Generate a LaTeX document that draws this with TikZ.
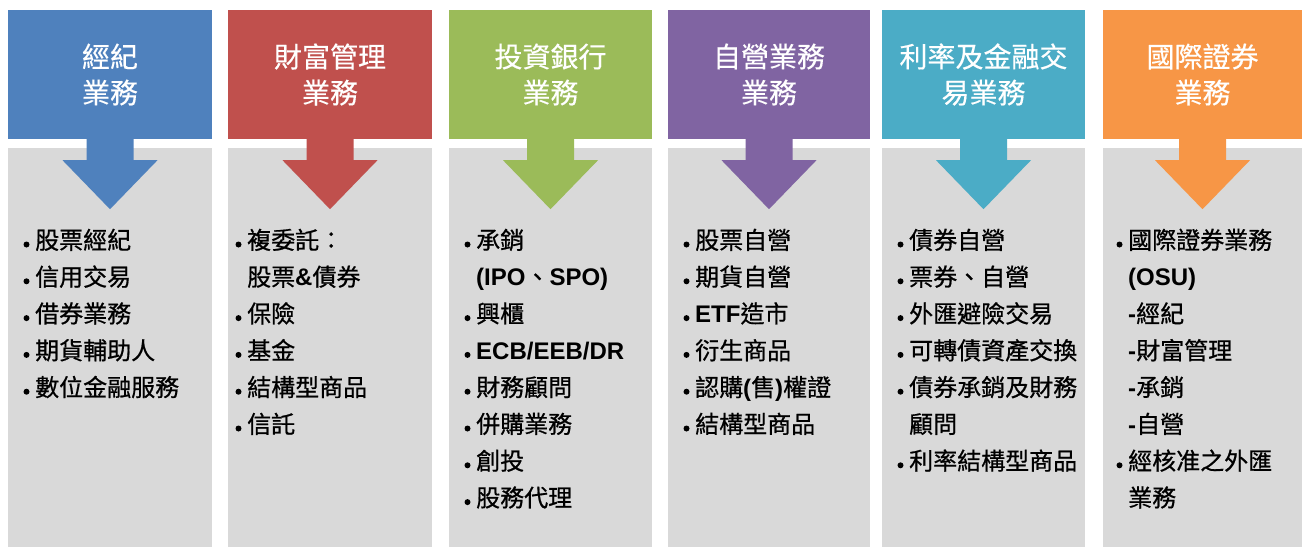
\documentclass[tikz,border=0pt]{standalone}
\usepackage{fontspec}
\usetikzlibrary{calc}
\newfontfamily\cjk{Noto Sans CJK TC}[FakeBold=0.7]
\newfontfamily\cjkh{Noto Sans CJK TC}[FakeBold=0.4]
\newfontfamily\lat{Liberation Sans}
\newcommand\B[1]{{\lat\bfseries #1}}
\definecolor{cBlue}{HTML}{4F81BD}
\definecolor{cRed}{HTML}{C0504D}
\definecolor{cGreen}{HTML}{9BBB59}
\definecolor{cPurple}{HTML}{8064A2}
\definecolor{cAqua}{HTML}{4BACC6}
\definecolor{cOrange}{HTML}{F79646}
\definecolor{cGray}{HTML}{D9D9D9}
\tikzset{
  hdr/.style={rectangle, inner sep=0pt, minimum height=129pt, text=white, align=center,
    font=\cjkh\fontsize{28}{36}\selectfont},
  panel/.style={rectangle, inner sep=0pt, fill=cGray, minimum height=399pt},
  body/.style={anchor=base west, inner sep=0pt, text=black, font=\cjk\fontsize{24}{24}\selectfont},
}
\newcommand\bitem[4]{\node[body] (#1) at (#2,#3) {#4};
  \fill[black] ($(#1.base west)+(-8.5,-4.5)$) circle (3pt);}
\newcommand\pitem[4]{\node[body] (#1) at (#2,#3) {#4};}
\newcommand\colarrow[2]{%
  \fill[#2] ($(#1.south)+(-23.5,-0.5)$) -- ($(#1.south)+(-23.5,21)$) -- ($(#1.south)+(-47.5,21)$)
   -- ($(#1.south)+(0,70)$) -- ($(#1.south)+(47.5,21)$) -- ($(#1.south)+(23.5,21)$)
   -- ($(#1.south)+(23.5,-0.5)$) -- cycle;}
\begin{document}
\begin{tikzpicture}[x=1pt,y=-1pt]
\path[use as bounding box, fill=white] (0,0) rectangle (1306,547);
% panels
\node[panel, minimum width=204pt] (p1) at (110,347.5) {};
\node[panel, minimum width=204pt] (p2) at (330,347.5) {};
\node[panel, minimum width=203pt] (p3) at (550.5,347.5) {};
\node[panel, minimum width=202pt] (p4) at (769,347.5) {};
\node[panel, minimum width=203pt] (p5) at (983.5,347.5) {};
\node[panel, minimum width=199pt] (p6) at (1202.5,347.5) {};
% headers
\node[hdr, fill=cBlue, minimum width=204pt] (h1) at (110,74.5) {經紀\\業務};
\node[hdr, fill=cRed, minimum width=204pt] (h2) at (330,74.5) {財富管理\\業務};
\node[hdr, fill=cGreen, minimum width=203pt] (h3) at (550.5,74.5) {投資銀行\\業務};
\node[hdr, fill=cPurple, minimum width=202pt] (h4) at (769,74.5) {自營業務\\業務};
\node[hdr, fill=cAqua, minimum width=203pt] (h5) at (983.5,74.5) {利率及金融交\\易業務};
\node[hdr, fill=cOrange, minimum width=199pt] (h6) at (1202.5,74.5) {國際證券\\業務};
% arrows
\colarrow{h1}{cBlue}
\colarrow{h2}{cRed}
\colarrow{h3}{cGreen}
\colarrow{h4}{cPurple}
\colarrow{h5}{cAqua}
\colarrow{h6}{cOrange}
% column 1
\bitem{a1}{35}{249}{股票經紀}
\bitem{a2}{35}{285.8}{信用交易}
\bitem{a3}{35}{322.6}{借券業務}
\bitem{a4}{35}{359.4}{期貨輔助人}
\bitem{a5}{35}{396.2}{數位金融服務}
% column 2
\bitem{b1}{247}{249}{複委託：}
\pitem{b2}{247}{285.8}{股票\B{\&}債券}
\bitem{b3}{247}{322.6}{保險}
\bitem{b4}{247}{359.4}{基金}
\bitem{b5}{247}{396.2}{結構型商品}
\bitem{b6}{247}{433}{信託}
% column 3
\bitem{c1}{476}{249}{承銷}
\pitem{c2}{476}{285.8}{\B{(IPO}、\B{SPO)}}
\bitem{c3}{476}{322.6}{興櫃}
\bitem{c4}{476}{359.4}{\B{ECB/EEB/DR}}
\bitem{c5}{476}{396.2}{財務顧問}
\bitem{c6}{476}{433}{併購業務}
\bitem{c7}{476}{469.8}{創投}
\bitem{c8}{476}{506.6}{股務代理}
% column 4
\bitem{d1}{695}{249}{股票自營}
\bitem{d2}{695}{285.8}{期貨自營}
\bitem{d3}{695}{322.6}{\B{ETF}造市}
\bitem{d4}{695}{359.4}{衍生商品}
\bitem{d5}{695}{396.2}{認購\B{(}售\B{)}權證}
\bitem{d6}{695}{433}{結構型商品}
% column 5
\bitem{e1}{909}{249}{債券自營}
\bitem{e2}{909}{285.8}{票券、自營}
\bitem{e3}{909}{322.6}{外匯避險交易}
\bitem{e4}{909}{359.4}{可轉債資產交換}
\bitem{e5}{909}{396.2}{債券承銷及財務}
\pitem{e6}{909}{433}{顧問}
\bitem{e7}{909}{469.8}{利率結構型商品}
% column 6
\bitem{f1}{1128}{249}{國際證券業務}
\pitem{f2}{1128}{285.8}{\B{(OSU)}}
\pitem{f3}{1128}{322.6}{\B{-}經紀}
\pitem{f4}{1128}{359.4}{\B{-}財富管理}
\pitem{f5}{1128}{396.2}{\B{-}承銷}
\pitem{f6}{1128}{433}{\B{-}自營}
\bitem{f7}{1128}{469.8}{經核准之外匯}
\pitem{f8}{1128}{506.6}{業務}
\end{tikzpicture}
\end{document}
